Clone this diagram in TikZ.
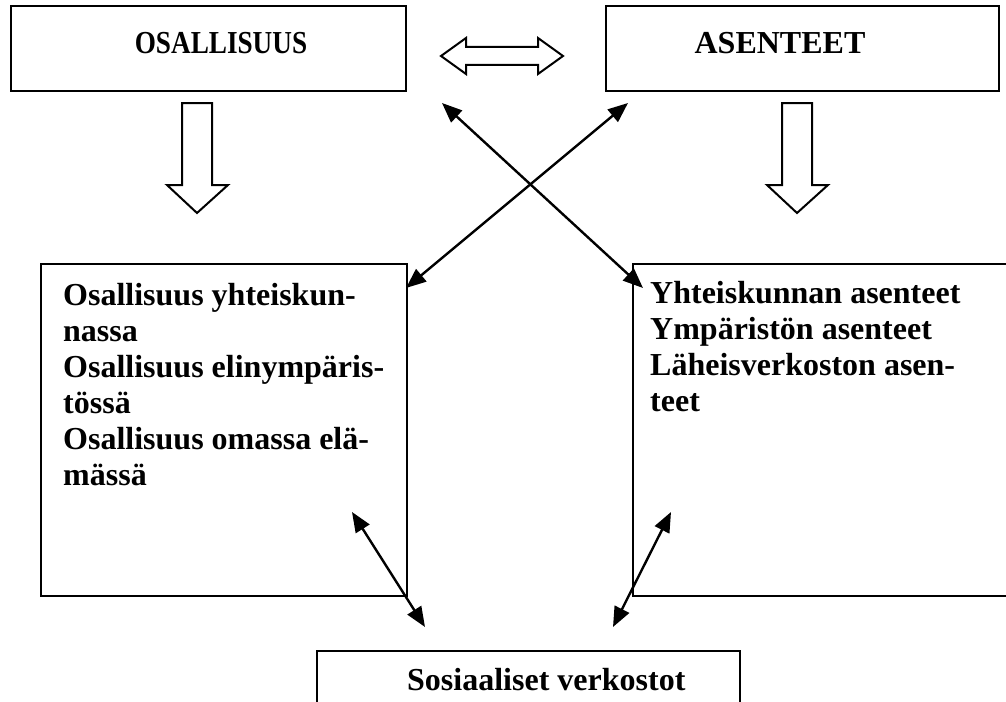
\documentclass[tikz,border=0pt]{standalone}
\usepackage{fontspec}
\setmainfont{Liberation Serif}
\usetikzlibrary{arrows.meta}
\tikzset{
  box/.style={draw, line width=2pt, inner sep=0pt, anchor=north west},
  txt/.style={font=\fontsize{32}{36}\selectfont\bfseries, inner sep=0pt},
  link/.style={line width=2.4pt, {Triangle[length=20pt,width=16pt]}-{Triangle[length=20pt,width=16pt]}},
  blockarrow/.style={draw, line width=2pt, fill=white, line join=miter},
}
\begin{document}
\begin{tikzpicture}[x=1pt,y=-1pt]
  \clip (0,0) rectangle (1006,701);
  % boxes
  \node[box, minimum width=395, minimum height=85] (osall) at (10,5) {};
  \node[box, minimum width=393, minimum height=85] (asen) at (605,5) {};
  \node[box, minimum width=366, minimum height=332] (osallbox) at (40,263) {};
  \node[box, minimum width=400, minimum height=332] (asenbox) at (632,263) {};
  \node[box, minimum width=423, minimum height=80] (sos) at (316,650) {};
  % texts
  \node[txt, anchor=base] (osallt) at (221,53) {\scalebox{0.85}[1]{OSALLISUUS}};
  \node[txt, anchor=base] (asent) at (780,53) {ASENTEET};
  \node[txt, anchor=base west] (osallist) at (63,305) {\vtop{%
    \hbox{Osallisuus yhteiskun-}\hbox{nassa}%
    \hbox{Osallisuus elinympäris-}\hbox{tössä}%
    \hbox{Osallisuus omassa elä-}\hbox{mässä}}};
  \node[txt, anchor=base west] (asenlist) at (650,303) {\vtop{%
    \hbox{Yhteiskunnan asenteet}\hbox{Ympäristön asenteet}%
    \hbox{Läheisverkoston asen-}\hbox{teet}}};
  \node[txt, anchor=base west] (sost) at (407,690) {Sosiaaliset verkostot};
  % block arrows
  \draw[blockarrow] (441,56) -- (466,38) -- (466,47) -- (538,47) -- (538,38) -- (563,56)
    -- (538,74) -- (538,65) -- (466,65) -- (466,74) -- cycle;
  \draw[blockarrow] (182,103) -- (212,103) -- (212,185) -- (228,185) -- (197,213)
    -- (167,185) -- (182,185) -- cycle;
  \draw[blockarrow] (782,103) -- (812,103) -- (812,185) -- (828,185) -- (797,213)
    -- (767,185) -- (782,185) -- cycle;
  % connectors
  \coordinate (a1) at (442,103);
  \coordinate (a2) at (643,288);
  \coordinate (b1) at (628,103);
  \coordinate (b2) at (406,288);
  \coordinate (c1) at (352,512);
  \coordinate (c2) at (425,627);
  \coordinate (d1) at (671,512);
  \coordinate (d2) at (613,627);
  \draw[link] (a1) -- (a2);
  \draw[link] (b1) -- (b2);
  \draw[link] (c1) -- (c2);
  \draw[link] (d1) -- (d2);
\end{tikzpicture}
\end{document}
